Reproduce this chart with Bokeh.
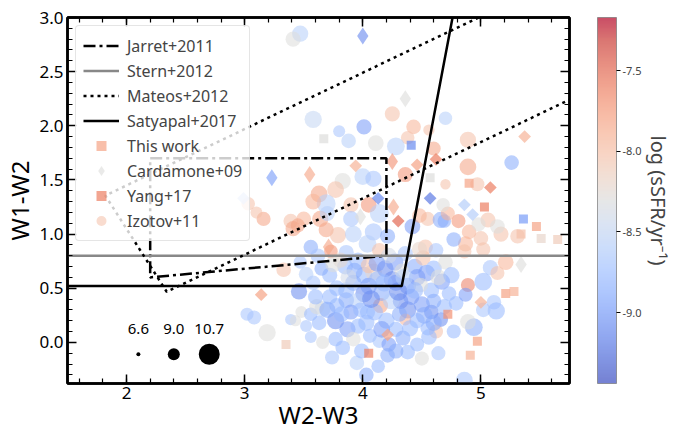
import numpy as np
from bokeh.plotting import figure
from bokeh.models import (ColumnDataSource, LinearColorMapper, ColorBar, LinearAxis,
                          FixedTicker, Range1d, Title, Legend, LegendItem, PrintfTickFormatter)
from bokeh.embed import file_html
from bokeh.resources import INLINE
from bokeh.core.properties import value

FONT = "Noto Sans"

# ---------------- data ----------------
# Izotov+11 circles: (W2-W3, W1-W2, log sSFR, log M*)
izotov_top = [
    (3.47, 2.85, -8.6, 9.8), (3.41, 2.80, -8.3, 9.6), (3.58, 2.06, -8.5, 10.0),
    (3.80, 1.95, -8.7, 9.0), (4.01, 1.99, -9.0, 9.6), (3.88, 1.86, -8.6, 9.5),
    (4.11, 1.84, -8.3, 9.7), (4.25, 2.11, -8.0, 9.6), (4.43, 1.99, -7.9, 9.5),
    (4.38, 1.89, -8.0, 9.3), (4.28, 1.81, -8.6, 10.1), (4.60, 1.79, -7.8, 9.4),
    (4.56, 1.96, -8.0, 8.8), (4.70, 2.07, -8.6, 9.3), (4.89, 1.87, -8.0, 9.8),
    (4.89, 1.62, -7.8, 9.9), (5.26, 1.66, -8.9, 9.5), (4.97, 1.46, -8.0, 9.4),
    (4.70, 1.46, -8.0, 8.5), (4.36, 1.55, -7.7, 9.6), (4.00, 1.53, -8.6, 9.9),
    (4.09, 1.51, -8.7, 9.8), (3.83, 1.49, -8.3, 9.8),
]
izotov_wedge = [
    (3.63, 1.37, -7.8, 9.9), (3.77, 1.41, -8.0, 9.9), (3.69, 1.28, -8.6, 10.3),
    (3.58, 1.30, -7.9, 9.7), (3.64, 1.14, -7.8, 9.8), (3.50, 1.14, -7.9, 9.5),
    (3.39, 1.12, -8.0, 9.5), (3.90, 1.27, -8.0, 9.6), (4.05, 1.27, -7.7, 9.7),
    (4.69, 1.12, -8.9, 9.3), (4.55, 1.14, -8.0, 9.4), (3.70, 1.19, -8.6, 9.6),
    (3.16, 1.14, -7.8, 9.4), (3.03, 1.28, -8.0, 9.3), (3.10, 1.20, -8.0, 9.0),
    (3.41, 1.05, -7.8, 9.6), (3.45, 1.08, -7.8, 9.4), (3.69, 1.04, -7.8, 9.6),
    (3.56, 0.88, -8.9, 9.5), (3.73, 0.84, -7.7, 9.3), (3.79, 0.99, -8.0, 9.8),
    (3.90, 1.14, -8.7, 9.7), (4.14, 1.19, -8.6, 10.3), (3.92, 1.00, -8.6, 9.9),
    (4.09, 1.02, -8.7, 10.0), (4.04, 0.91, -8.6, 10.1), (4.21, 0.98, -8.9, 9.6),
    (4.53, 0.88, -8.0, 9.6), (4.42, 1.07, -9.0, 9.7), (4.48, 1.17, -7.9, 9.5),
    (4.66, 1.13, -8.9, 9.8), (4.81, 1.12, -7.7, 9.4), (4.72, 1.19, -7.9, 9.4),
    (4.68, 1.27, -8.3, 9.3), (5.06, 1.13, -8.0, 9.6), (5.17, 1.00, -8.0, 9.6),
    (4.90, 1.02, -7.9, 9.5), (4.98, 1.09, -8.3, 9.4), (5.02, 0.86, -8.0, 9.4),
    (4.87, 0.91, -7.9, 9.6), (4.77, 0.95, -8.9, 9.5), (5.31, 0.98, -8.0, 9.5),
    (5.14, 1.07, -8.3, 9.5), (5.00, 0.96, -8.0, 9.5), (4.86, 0.84, -8.0, 9.4),
]
izotov_right = [
    (5.21, 0.74, -7.9, 9.7), (5.08, 0.69, -8.7, 9.6), (5.14, 0.64, -8.0, 9.4),
    (4.89, 0.53, -7.6, 9.4), (5.02, 0.56, -8.8, 10.1), (5.11, 0.37, -8.7, 9.5),
    (5.13, 0.29, -8.8, 10.0), (5.02, 0.30, -8.7, 9.5), (4.94, 0.14, -8.9, 10.1),
    (4.89, 0.19, -8.3, 9.7), (4.77, 0.10, -8.8, 9.4), (4.66, 0.21, -9.1, 9.5),
    (4.62, 0.10, -8.0, 9.4), (4.55, 0.13, -8.8, 9.5), (4.86, -0.35, -8.7, 9.9),
    (4.79, 0.36, -8.8, 9.5), (4.87, 0.44, -9.0, 9.4), (4.58, 0.28, -9.1, 9.5),
]
izotov_lower = [
    (3.33, 0.67, -8.0, 9.5), (3.46, 0.47, -9.1, 9.8), (3.08, 0.23, -8.7, 9.4),
    (3.02, 0.26, -8.7, 9.2), (3.19, 0.09, -8.3, 10.0), (3.39, 0.21, -8.7, 8.8),
    (3.43, 0.20, -8.3, 8.8), (3.48, 0.28, -8.3, 9.0), (3.56, 0.26, -8.8, 9.3),
    (3.63, 0.18, -8.8, 9.5), (3.66, 0.31, -8.5, 9.8), (3.61, 0.33, -8.3, 9.6),
    (3.77, 0.20, -9.1, 10.0), (3.78, 0.34, -8.8, 9.6), (3.86, 0.39, -8.9, 9.7),
    (3.87, 0.12, -9.0, 9.8), (3.96, 0.15, -8.8, 9.6), (4.04, 0.28, -8.8, 9.6),
    (3.77, 0.03, -8.8, 9.5), (3.92, 0.03, -8.3, 9.5), (3.83, -0.05, -8.8, 9.5),
    (4.06, 0.06, -8.8, 9.4), (4.14, 0.01, -8.7, 9.3), (4.22, -0.02, -9.0, 9.5),
    (4.21, -0.12, -8.9, 9.5), (4.13, -0.22, -8.8, 9.3), (4.03, -0.30, -8.9, 9.5),
    (3.74, -0.14, -8.7, 9.4), (3.95, -0.19, -8.6, 9.5), (4.46, -0.02, -8.8, 9.4),
    (4.50, -0.15, -8.3, 9.4), (4.64, -0.10, -8.7, 9.4), (4.38, -0.09, -8.8, 9.5),
    (3.56, 0.05, -8.7, 9.0), (3.66, 0.00, -8.3, 9.2), (3.52, 0.15, -8.7, 9.0),
]
izotov_core = [
    (4.01, 0.45, -9.1, 10.0), (4.15, 0.34, -7.8, 9.6), (4.10, 0.28, -8.8, 9.9),
    (4.25, 0.58, -9.1, 10.0), (4.38, 0.30, -9.1, 10.0), (4.36, 0.21, -7.9, 9.0),
    (4.46, 0.20, -8.8, 9.6), (4.32, 0.38, -9.1, 9.7), (4.41, 0.42, -9.0, 9.8),
    (3.86, 0.83, -8.7, 9.6), (3.96, 0.75, -8.8, 10.0), (3.85, 0.70, -8.8, 9.7),
    (4.01, 0.62, -8.8, 9.9), (4.09, 0.65, -8.2, 9.9), (4.05, 0.71, -8.0, 9.7),
    (4.19, 0.68, -9.1, 9.9), (4.28, 0.55, -9.0, 9.8), (4.14, 0.85, -8.0, 9.5),
    (4.27, 0.74, -9.0, 10.0), (4.44, 0.70, -8.9, 9.7), (4.54, 0.64, -9.0, 9.9),
    (4.46, 0.60, -9.0, 9.9), (4.33, 0.66, -8.3, 9.5), (4.36, 0.82, -8.7, 9.6),
    (4.51, 0.78, -8.0, 9.6), (4.62, 0.85, -8.7, 9.5), (4.60, 0.68, -8.8, 9.8),
    (4.70, 0.74, -8.3, 9.5), (4.67, 0.56, -9.0, 9.8), (4.58, 0.48, -8.8, 9.7),
    (4.73, 0.45, -8.8, 9.5), (4.69, 0.33, -8.8, 9.6), (4.50, 0.35, -9.0, 9.8),
    (4.60, 0.38, -8.9, 9.6), (3.72, 0.62, -8.8, 9.6), (3.65, 0.68, -8.9, 9.4),
    (3.78, 0.50, -8.8, 9.7), (3.58, 0.55, -8.7, 9.5), (3.92, 0.55, -8.9, 9.8),
    (3.86, 0.48, -8.8, 9.8), (3.72, 0.42, -8.8, 9.6), (3.95, 0.38, -8.6, 9.7),
    (4.16, 0.46, -8.9, 9.9), (4.05, 0.52, -9.0, 9.9), (4.12, 0.58, -8.8, 9.8),
    (4.20, 0.20, -8.8, 9.8), (4.28, 0.12, -8.8, 9.6), (4.31, 0.26, -8.9, 9.6),
    (4.34, 0.04, -8.9, 9.6), (3.90, 0.28, -9.0, 9.6), (3.98, 0.30, -8.8, 9.5),
    (4.24, 0.38, -8.6, 9.8), (4.38, 0.52, -9.0, 9.9), (4.49, 0.53, -8.3, 9.5),
    (3.81, 0.76, -8.2, 9.6), (3.62, 0.80, -8.7, 9.5), (3.47, 0.74, -8.7, 9.2),
]
izotov_core_dense = [
    (3.93, 0.66, -8.9, 9.8), (4.07, 0.40, -9.1, 10.1), (4.18, 0.55, -8.8, 10.0),
    (4.30, 0.47, -9.1, 10.2), (4.44, 0.48, -8.8, 9.9), (4.52, 0.25, -8.9, 9.9),
    (4.40, 0.13, -8.8, 9.8), (4.16, 0.12, -9.0, 9.9), (4.03, 0.18, -8.8, 9.8),
    (3.82, 0.26, -8.8, 9.7), (3.70, 0.30, -8.9, 9.8), (3.88, 0.60, -8.4, 9.8),
    (4.22, 0.80, -8.4, 9.7), (4.48, 0.86, -8.2, 9.6), (4.64, 0.60, -8.3, 9.7),
    (4.75, 0.62, -8.8, 9.8), (4.56, 0.05, -8.8, 9.7), (4.28, -0.08, -8.9, 9.6),
    (3.99, -0.08, -8.8, 9.6), (3.60, 0.42, -8.8, 9.6), (3.52, 0.63, -8.6, 9.5),
    (4.12, 0.73, -9.0, 9.9), (4.35, 0.60, -8.6, 10.0), (3.75, 0.72, -8.3, 9.7),
    (4.60, 0.18, -8.9, 9.8),
]

# This work (diamonds): (W2-W3, W1-W2, log sSFR)
this_work = [
    (5.37, 1.90, -7.9), (5.08, 1.43, -7.6), (4.62, 1.69, -7.6), (4.46, 1.64, -7.8),
    (3.94, 1.63, -7.9), (4.57, 1.33, -9.2), (4.13, 1.33, -9.1), (4.86, 1.27, -8.6),
    (4.93, 1.18, -8.6), (3.14, 0.44, -7.8), (5.00, 0.37, -7.9), (4.21, 0.07, -7.8),
    (2.99, 1.33, -8.6), (4.30, 1.12, -7.5),
]
# Cardamone+09 (tall diamonds)
cardamone = [
    (4.00, 2.83, -9.1), (4.36, 2.25, -8.3), (4.25, 1.67, -7.7), (3.55, 1.55, -7.8),
    (3.23, 1.52, -9.0), (3.98, 1.16, -8.3), (4.26, 1.25, -7.8), (3.71, 0.88, -7.8),
    (5.34, 0.72, -8.3),
]
# Yang+17 (squares)
yang = [
    (4.41, 1.82, -9.1), (3.67, 1.88, -8.3), (4.90, 1.47, -7.8), (4.57, 1.52, -8.3),
    (5.03, 1.25, -7.6), (5.36, 1.14, -9.0), (5.47, 1.07, -7.8), (5.34, 1.00, -8.0),
    (5.51, 0.96, -8.2), (5.65, 0.95, -8.1), (5.21, 0.45, -7.8), (5.28, 0.47, -7.9),
    (4.72, 0.26, -7.7), (4.97, 0.01, -7.8), (4.91, -0.12, -7.9), (4.05, -0.10, -7.6),
    (3.35, -0.02, -8.1),
]

# Diagnostic lines
jarrett_x = [2.2, 4.2, 4.2, 2.2, 2.2]
jarrett_y = [1.7, 1.7, 0.8, 0.6, 1.7]
stern_x = [1.5, 5.75]
stern_y = [0.8, 0.8]
mateos_x = [4.98, 1.82, 2.34, 5.75]
mateos_y = [3.0, 1.356, 0.467, 2.24]
satyapal_x = [1.5, 4.33, 4.76]
satyapal_y = [0.52, 0.52, 3.0]

# Size key (log M*)
size_key_mass = [6.6, 9.0, 10.7]
size_key_x = [2.1, 2.4, 2.7]
size_key_y = [-0.11, -0.11, -0.11]
size_key_labels = ["6.6", "9.0", "10.7"]

x_ticks = [2, 3, 4, 5]
y_ticks = [0.0, 0.5, 1.0, 1.5, 2.0, 2.5, 3.0]
cbar_ticks = [-9.0, -8.5, -8.0, -7.5]
SSFR_LOW, SSFR_HIGH = -9.44, -7.17

# ---------------- palette (coolwarm) ----------------
anchors = [(0.0, (59, 76, 192)), (0.0625, (77, 104, 215)), (0.125, (98, 130, 234)),
           (0.1875, (119, 154, 247)), (0.25, (141, 176, 254)), (0.3125, (163, 194, 255)),
           (0.375, (184, 208, 249)), (0.4375, (204, 217, 238)), (0.5, (221, 221, 221)),
           (0.5625, (236, 211, 197)), (0.625, (245, 196, 173)), (0.6875, (247, 177, 148)),
           (0.75, (244, 154, 123)), (0.8125, (236, 127, 99)), (0.875, (222, 96, 77)),
           (0.9375, (203, 62, 56)), (1.0, (180, 4, 38))]
at = [a[0] for a in anchors]
palette = []
for t in np.linspace(0, 1, 256):
    r = np.interp(t, at, [a[1][0] for a in anchors])
    g = np.interp(t, at, [a[1][1] for a in anchors])
    b = np.interp(t, at, [a[1][2] for a in anchors])
    palette.append("#%02x%02x%02x" % (int(round(r)), int(round(g)), int(round(b))))
mapper = LinearColorMapper(palette=palette, low=SSFR_LOW, high=SSFR_HIGH)


def cols(rows, names):
    return {n: [r[i] for r in rows] for i, n in enumerate(names)}


def msize(m):
    return list(np.interp(m, [6.6, 9.0, 10.7], [4, 12, 21]))


izo_rows = (izotov_top + izotov_wedge + izotov_right + izotov_lower + izotov_core
            + izotov_core_dense)
izo = cols(izo_rows, ["x", "y", "ssfr", "mass"])
izo["size"] = msize(izo["mass"])
src_izo = ColumnDataSource(izo)
src_tw = ColumnDataSource(cols(this_work, ["x", "y", "ssfr"]))
src_ca = ColumnDataSource(cols(cardamone, ["x", "y", "ssfr"]))
src_ya = ColumnDataSource(cols(yang, ["x", "y", "ssfr"]))

# ---------------- figure ----------------
p = figure(frame_width=502, frame_height=366, x_range=Range1d(1.5, 5.75),
           y_range=Range1d(-0.38, 3.0), output_backend="svg", toolbar_location=None,
           min_border_left=10, min_border_top=17, min_border_right=2, min_border_bottom=0)
p.grid.visible = False
p.outline_line_color = "black"
p.outline_line_width = 2.5

xa = p.below[0]
ya = p.left[0]
xa.axis_label = "W2-W3"
ya.axis_label = "W1-W2"

xt = FixedTicker(ticks=x_ticks, minor_ticks=list(np.round(np.arange(1.6, 5.75, 0.2), 2)))
yt = FixedTicker(ticks=y_ticks, minor_ticks=list(np.round(np.arange(-0.3, 3.0, 0.1), 2)))
xa.ticker = xt
ya.ticker = yt
ya.formatter = PrintfTickFormatter(format="%.1f")

top_ax = LinearAxis(ticker=xt)
right_ax = LinearAxis(ticker=yt, formatter=PrintfTickFormatter(format="%.1f"))
p.add_layout(top_ax, "above")
p.add_layout(right_ax, "right")

for ax in [xa, ya, top_ax, right_ax]:
    ax.axis_line_width = 2.5
    ax.major_tick_in = 9
    ax.major_tick_out = 0
    ax.minor_tick_in = 5
    ax.minor_tick_out = 0
    ax.major_tick_line_width = 1.5
    ax.minor_tick_line_width = 1.2
    ax.major_label_text_font = FONT
    ax.major_label_text_font_size = "17px"
    ax.major_label_text_color = "black"
    ax.major_label_standoff = 3
    ax.axis_label_text_font = FONT
    ax.axis_label_text_font_size = "24px"
    ax.axis_label_text_font_style = "normal"
    ax.axis_label_text_color = "black"
    ax.axis_label_standoff = -4
ya.major_label_standoff = 4
ya.axis_label_standoff = 0
# mirrored axes: ticks only
top_ax.major_label_text_color = None
right_ax.major_label_text_color = None

# invisible spacer axis: reserves the gap between the frame and the colour bar
gap_ax = LinearAxis(ticker=FixedTicker(ticks=[0.0], minor_ticks=[]))
gap_ax.axis_line_color = None
gap_ax.major_tick_line_color = None
gap_ax.minor_tick_line_color = None
gap_ax.major_label_text_color = None
gap_ax.major_tick_in = 0
gap_ax.major_tick_out = 28
p.add_layout(gap_ax, "right")

# scatter points
r_iz = p.scatter("x", "y", source=src_izo, marker="circle", size="size",
                 fill_color={"field": "ssfr", "transform": mapper}, fill_alpha=0.56,
                 line_color=None)
r_ca = p.scatter("x", "y", source=src_ca, marker="diamond", size=17,
                 fill_color={"field": "ssfr", "transform": mapper}, fill_alpha=0.62,
                 line_color=None)
r_ya = p.scatter("x", "y", source=src_ya, marker="square", size=9,
                 fill_color={"field": "ssfr", "transform": mapper}, fill_alpha=0.7,
                 line_color=None)
r_tw = p.scatter("x", "y", source=src_tw, marker="square", angle=np.pi / 4, size=9,
                 fill_color={"field": "ssfr", "transform": mapper}, fill_alpha=0.7,
                 line_color=None)

# lines
r_j = p.line(jarrett_x, jarrett_y, line_color="black", line_width=2.5, line_dash="12 4 3 4")
r_s = p.line(stern_x, stern_y, line_color="#888888", line_width=2.5)
r_m = p.line(mateos_x, mateos_y, line_color="black", line_width=2.5, line_dash="3 4")
r_sa = p.line(satyapal_x, satyapal_y, line_color="black", line_width=2.5)

# size key
src_key = ColumnDataSource(dict(x=size_key_x, y=size_key_y, size=msize(size_key_mass),
                                label=size_key_labels))
p.scatter("x", "y", source=src_key, marker="circle", size="size", fill_color="black",
          line_color=None)
p.text("x", "y", text="label", source=src_key, text_align="center", text_baseline="middle",
       y_offset=-25, text_font=value(FONT), text_font_size="15px", text_color="black")

# legend (marker swatches taken from representative points of each sample)
legend = Legend(items=[
    LegendItem(label="Jarret+2011", renderers=[r_j]),
    LegendItem(label="Stern+2012", renderers=[r_s]),
    LegendItem(label="Mateos+2012", renderers=[r_m]),
    LegendItem(label="Satyapal+2017", renderers=[r_sa]),
    LegendItem(label="This work", renderers=[r_tw], index=3),
    LegendItem(label="Cardamone+09", renderers=[r_ca], index=1),
    LegendItem(label="Yang+17", renderers=[r_ya], index=4),
    LegendItem(label="Izotov+11", renderers=[r_iz], index=7),
], location="top_left")
legend.margin = 8
legend.padding = 7
legend.spacing = 0
legend.glyph_width = 36
legend.glyph_height = 25
legend.label_height = 25
legend.label_standoff = 8
legend.label_text_font = FONT
legend.label_text_font_size = "16px"
legend.border_line_color = "#cccccc"
legend.border_line_width = 1
legend.background_fill_alpha = 0.8
legend.border_radius = 4
p.add_layout(legend)

# colour bar
cbar = ColorBar(color_mapper=mapper, width=19, height=366, padding=0, margin=0,
                ticker=FixedTicker(ticks=cbar_ticks),
                formatter=PrintfTickFormatter(format="%.1f"),
                major_label_text_font=FONT, major_label_text_font_size="11px",
                major_tick_in=0, major_tick_out=4, major_tick_line_color="black",
                bar_line_color="#777777", scale_alpha=0.7, label_standoff=2,
                background_fill_alpha=0)
p.add_layout(cbar, "right")
p.add_layout(Title(text="log (sSFR/yr⁻¹)", align="center", text_font=FONT,
                   text_font_size="20px", text_font_style="normal", standoff=0), "right")

open("out.html", "w").write(file_html(p, INLINE))
